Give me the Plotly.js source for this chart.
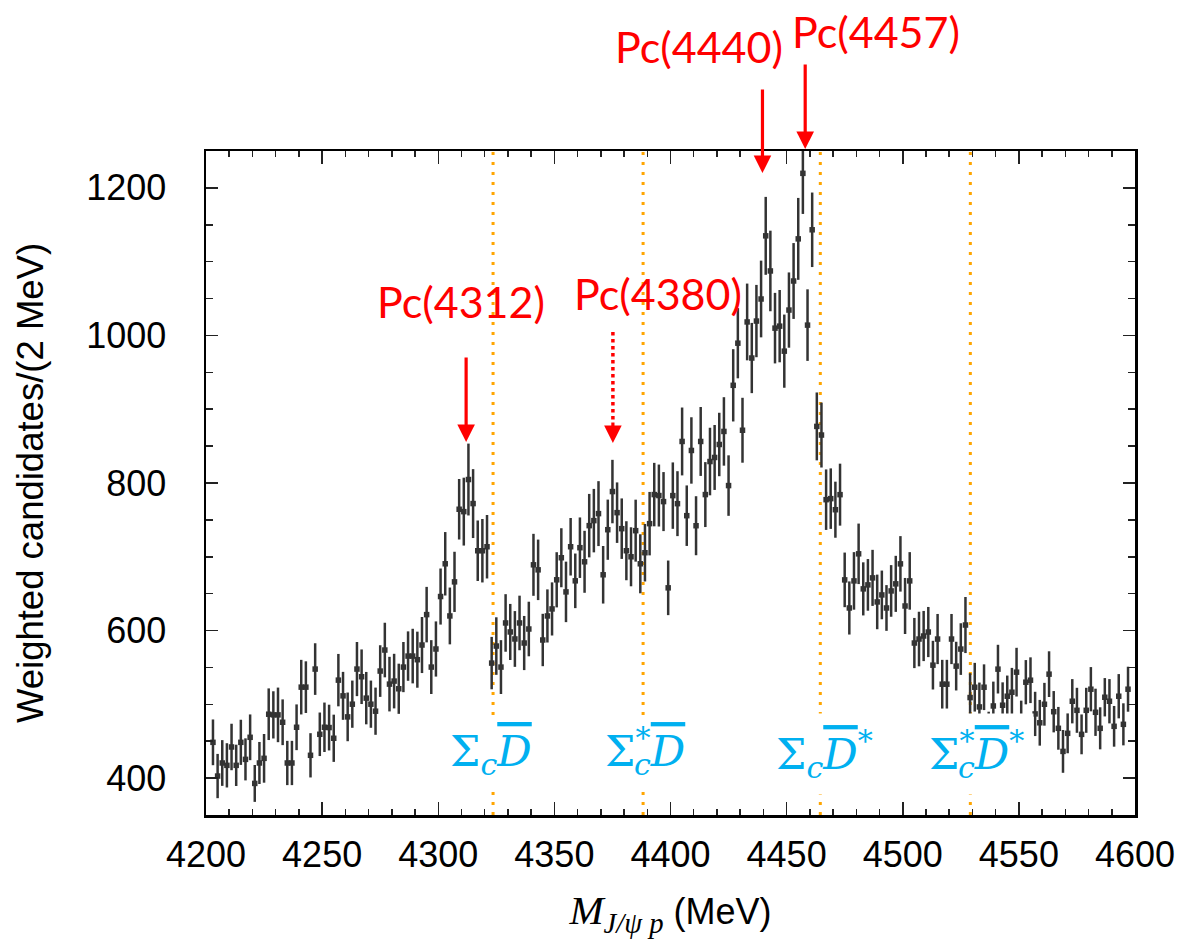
<!DOCTYPE html>
<html>
<head>
<meta charset="utf-8">
<script src="https://cdn.plot.ly/plotly-3.0.1.min.js"></script>
<style>
  html, body { margin: 0; padding: 0; background: #ffffff; }
  #chart { width: 1189px; height: 939px; }
</style>
</head>
<body>
<div id="chart"></div>
<script>
// J/psi p invariant-mass spectrum, 2 MeV bins starting at 4203 MeV
const binStart = 4203;
const binWidth = 2;

const counts = [
  448.5, 402.8, 420.5, 417.3, 442.2, 417.3, 448.5, 425.4, 455.3, 392.8,
  420.5, 426.8, 486.6, 485.7, 485.7, 475.7, 420.5, 420.5, 468.9, 523.3,
  523.3, 430.9, 547.8, 459.4, 468.9, 468.5, 454.0, 532.8, 511.5, 483.0,
  500.2, 547.8, 537.4, 508.4, 500.2, 490.7, 545.1, 573.6, 527.4, 531.5,
  521.1, 550.5, 565.4, 565.4, 560.5, 580.4, 621.6, 550.5, 575.0, 646.1,
  690.5, 619.8, 666.0, 764.4, 761.2, 804.7, 772.1, 708.2, 708.2, 713.6,
  555.9, 579.0, 550.5, 610.3, 598.1, 588.6, 610.3, 583.1, 602.1, 689.1,
  682.3, 587.2, 619.8, 629.3, 668.8, 698.7, 652.4, 713.6, 667.4, 712.3,
  693.2, 742.2, 749.0, 758.5, 675.6, 736.7, 788.4, 759.8, 738.1, 708.2,
  700.0, 735.4, 690.5, 705.5, 744.9, 784.3, 783.0, 774.8, 657.9, 782.9,
  772.0, 856.3, 755.7, 844.1, 742.1, 856.3, 784.3, 829.1, 834.6, 852.2,
  869.9, 796.5, 932.4, 989.5, 871.5, 1018.3, 969.4, 1019.5, 1049.4, 1135.0,
  1087.4, 1009.9, 1012.6, 978.7, 1034.4, 1073.8, 1130.9, 1219.7, 1014.0, 1143.2,
  876.7, 865.0, 777.4, 778.8, 763.8, 784.2, 668.7, 630.6, 667.3, 704.0,
  656.5, 661.9, 671.4, 638.8, 648.3, 630.6, 653.7, 663.3, 690.4, 633.3,
  667.3, 583.1, 588.5, 592.6, 598.0, 553.1, 588.5, 527.3, 527.3, 588.5,
  551.8, 574.9, 607.5, 509.2, 523.2, 496.5, 523.2, 457.0, 497.8, 547.7,
  498.8, 511.0, 516.4, 543.6, 474.0, 530.0, 532.7, 487.0, 475.0, 500.1,
  540.9, 490.0, 467.5, 436.2, 460.7, 504.2, 491.9, 459.3, 491.9, 520.5,
  489.2, 467.5, 509.6, 504.2, 470.2, 511.0, 472.9, 520.5
];

const errors = [
  31, 30, 31, 30, 31.5, 28, 30.6, 28.5, 31, 25,
  28.5, 33, 35, 32, 37, 31, 30, 30, 31, 37,
  35, 30, 35, 29.5, 33.5, 31, 32, 35.5, 32.5, 33,
  32, 36.7, 37, 35.5, 32, 32, 35, 37, 37, 37,
  34, 34, 33.5, 37, 38, 38, 37.6, 36.5, 37.4, 38,
  43, 38.5, 40.8, 41, 46, 48.7, 46.7, 41, 43, 43,
  35.5, 39, 36.5, 39, 38, 37.8, 37, 36.7, 37, 42,
  41, 35.5, 36, 36, 37.4, 40, 41, 39, 37, 41,
  42, 43, 43, 44, 39, 40.8, 43, 41, 41, 40,
  40, 42, 40, 39, 43, 43, 42, 40, 37, 45,
  44, 46, 41, 45, 40, 46.7, 44, 45.8, 44, 43,
  46.4, 41, 49, 47.6, 44, 52, 47.6, 49, 52, 52.8,
  54.6, 47.8, 49, 49.6, 51, 51.4, 55.5, 55, 48.5, 50.5,
  46, 44, 41, 41, 38, 42, 37, 36, 39, 41,
  36, 35, 38, 37, 33, 31, 35, 38, 37.6, 38,
  39, 34, 37, 34, 34, 33, 34, 33, 33, 34,
  33, 35, 38, 33, 33, 33, 31, 33, 33, 33,
  31, 28, 33, 33, 31, 30, 31, 30, 31, 29,
  31, 28, 29, 29, 27, 30, 30.5, 27, 30.5, 30,
  32, 28.5, 26, 30, 27.6, 30, 28.5, 30.5
];

const masses = counts.map((_, i) => binStart + binWidth * i);

// Open-charm thresholds (MeV) and their labels
const thresholds = [4323.6, 4388.2, 4464.5, 4529.1];
const BAR_D = '<span style="text-decoration:overline"><i>D</i></span>';
const STAR_OVER = '<sup><span style="letter-spacing:-0.55em">*</span></sup>';
const thresholdLabels = [
  'Σ<sub><i>c</i></sub>' + BAR_D,
  'Σ' + STAR_OVER + '<sub><i>c</i></sub>' + BAR_D,
  'Σ<sub><i>c</i></sub>' + BAR_D + '<sup>*</sup>',
  'Σ' + STAR_OVER + '<sub><i>c</i></sub>' + BAR_D + '<sup>*</sup>'
];
const labelShift = [-2, 2, 4, 6];

// Pentaquark states: name, arrow mass, label centre mass
const pcNames = ['Pc(4312)', 'Pc(4380)', 'Pc(4440)', 'Pc(4457)'];
const pcArrowMass = [4312, 4375.2, 4439.6, 4458];
const pcLabelMass = [4309.8, 4394.6, 4412.3, 4488.5];

const RED = '#ff0000';
const BLUE = '#00b0f0';
const ORANGE = '#ffa500';
const INK = '#333333';
const SANS = '"Liberation Sans", Arial, sans-serif';
const LABEL = 'Lato, "Open Sans", sans-serif';

const trace = {
  type: 'scatter',
  mode: 'markers',
  x: masses,
  y: counts,
  marker: { symbol: 'square', size: 5.5, color: INK },
  error_y: { type: 'data', array: errors, visible: true, color: INK, thickness: 2.5, width: 0 },
  hoverinfo: 'x+y',
  showlegend: false
};

const shapes = thresholds.map(m => ({
  type: 'line', xref: 'x', yref: 'paper',
  x0: m, x1: m, y0: 0, y1: 1,
  line: { color: ORANGE, width: 3, dash: '3px,7px' },
  layer: 'below'
}));
// dotted shaft for the Pc(4380) arrow
shapes.push({
  type: 'line', xref: 'x', yref: 'paper',
  x0: pcArrowMass[1], x1: pcArrowMass[1], y0: 0.7274, y1: 0.595,
  line: { color: RED, width: 3.5, dash: 'dot' }
});

const annotations = [];
thresholds.forEach((m, i) => {
  annotations.push({
    xref: 'x', yref: 'paper', x: m, y: 0.092,
    xanchor: 'center', yanchor: 'middle', xshift: labelShift[i],
    text: thresholdLabels[i], showarrow: false,
    font: { family: '"DejaVu Serif", "Liberation Serif", serif', size: 43, color: BLUE },
    bgcolor: '#ffffff', borderpad: 9
  });
});

const arrowTipY = [0.5617, 0.5602, 0.9669, 1.003];
const arrowTail = [-86, -22, -85, -86];
pcArrowMass.forEach((m, i) => {
  annotations.push({
    xref: 'x', yref: 'paper', x: m, y: arrowTipY[i],
    ax: 0, ay: arrowTail[i], axref: 'pixel', ayref: 'pixel',
    text: '', showarrow: true,
    arrowhead: 2, arrowsize: 1.1, arrowwidth: 3.2, arrowcolor: RED
  });
});

const pcLabelY = [0.7726, 0.786, 1.158, 1.1807];
pcNames.forEach((name, i) => {
  annotations.push({
    xref: 'x', yref: 'paper', x: pcLabelMass[i], y: pcLabelY[i],
    xanchor: 'center', yanchor: 'middle',
    text: name, showarrow: false,
    font: { family: LABEL, size: 43, color: RED }
  });
});

const layout = {
  width: 1189,
  height: 939,
  margin: { l: 206, r: 54, t: 151, b: 124, pad: 0 },
  paper_bgcolor: '#ffffff',
  plot_bgcolor: '#ffffff',
  showlegend: false,
  xaxis: {
    range: [4200, 4600],
    tick0: 4200, dtick: 50,
    ticks: 'inside', ticklen: 13, tickwidth: 1.5, tickcolor: '#222222',
    minor: { dtick: 10, ticks: 'inside', ticklen: 6, tickwidth: 1.5, tickcolor: '#222222', showgrid: false },
    showline: true, linewidth: 2.5, linecolor: '#000000', mirror: 'allticks',
    showgrid: false, zeroline: false,
    ticklabelstandoff: 6,
    tickfont: { family: SANS, size: 36, color: '#000000' },
    title: {
      text: '<span style="font-family:\'Liberation Serif\', serif;font-size:41px"><i>M</i><sub><i>J/ψ p</i></sub></span> (MeV)',
      font: { family: SANS, size: 36, color: '#000000' },
      standoff: 26
    }
  },
  yaxis: {
    range: [350, 1250],
    tick0: 400, dtick: 200,
    ticks: 'inside', ticklen: 12, tickwidth: 1.5, tickcolor: '#222222',
    minor: { dtick: 50, ticks: 'inside', ticklen: 7, tickwidth: 1.5, tickcolor: '#222222', showgrid: false },
    showline: true, linewidth: 2.5, linecolor: '#000000', mirror: 'allticks',
    showgrid: false, zeroline: false,
    ticklabelstandoff: 30,
    tickfont: { family: SANS, size: 36, color: '#000000' },
    title: {
      text: 'Weighted candidates/(2 MeV)',
      font: { family: '"Liberation Sans", Arial, sans-serif', size: 36.5, color: '#000000' },
      standoff: 32
    }
  },
  shapes: shapes,
  annotations: annotations
};

Plotly.newPlot('chart', [trace], layout, { displayModeBar: false, staticPlot: true });
</script>
</body>
</html>
